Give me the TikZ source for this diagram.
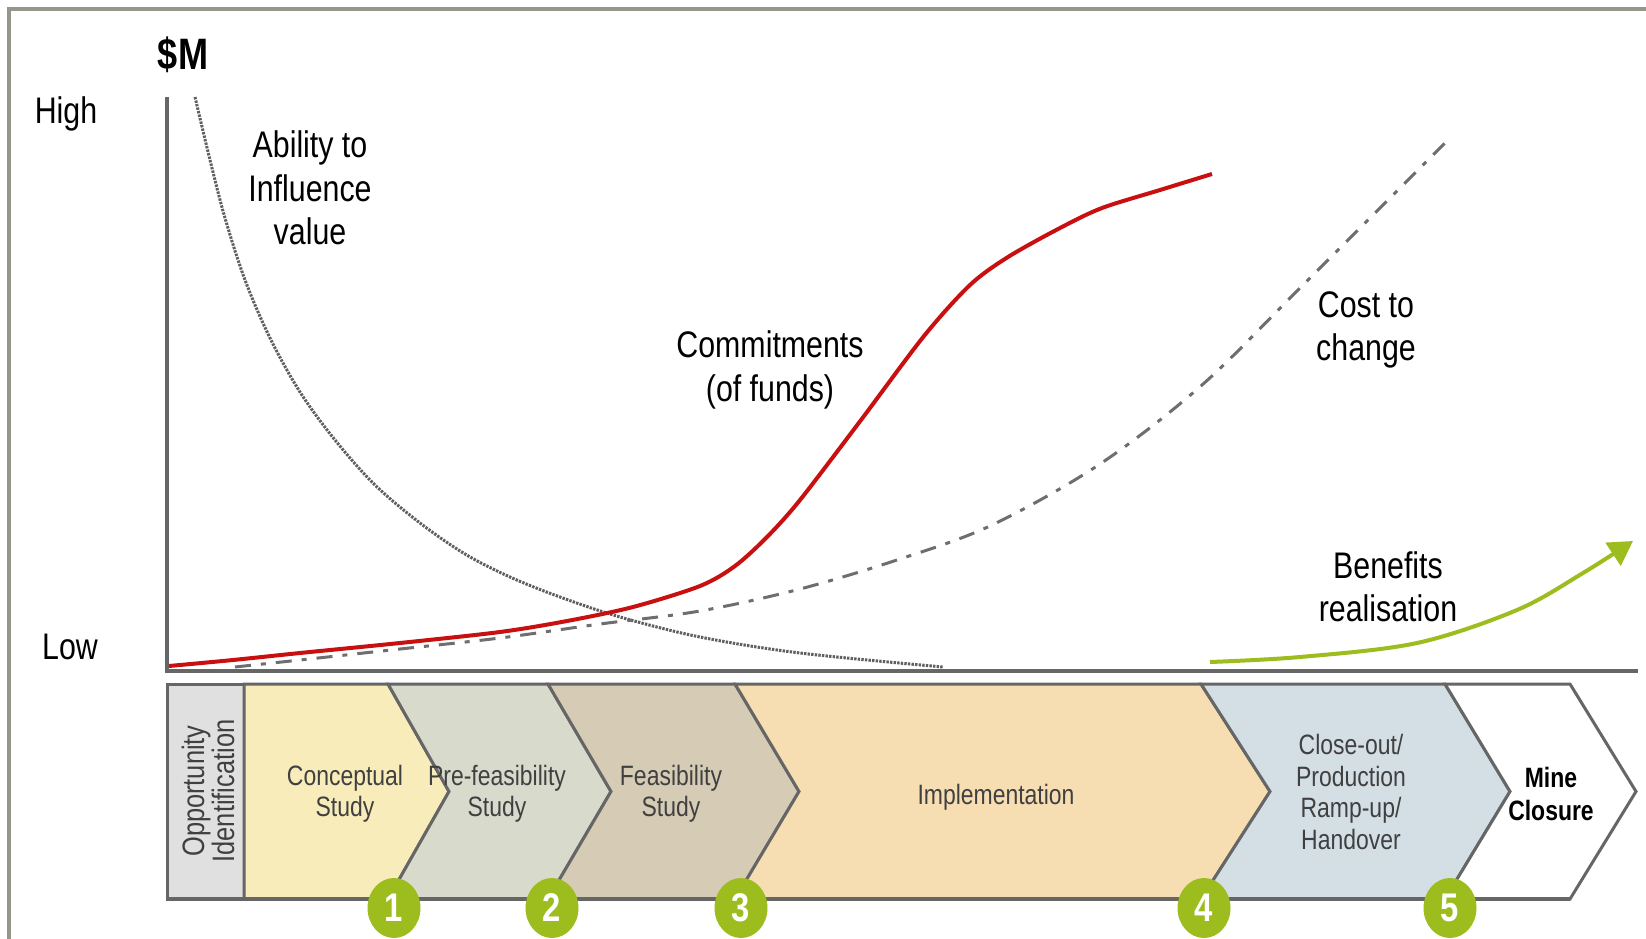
\documentclass[tikz,border=0pt]{standalone}
\usepackage{fontspec}
\newfontfamily\nar{Liberation Sans}[FakeStretch=0.82]
\usetikzlibrary{shapes.geometric,arrows.meta}
\definecolor{frameC}{RGB}{150,150,140}
\definecolor{axisC}{RGB}{102,102,102}
\definecolor{redC}{RGB}{200,16,16}
\definecolor{greenC}{RGB}{157,188,30}
\definecolor{curveC}{RGB}{110,110,110}
\definecolor{dotC}{RGB}{95,95,95}
\definecolor{oppC}{RGB}{224,224,224}
\definecolor{conC}{RGB}{248,236,186}
\definecolor{preC}{RGB}{216,218,204}
\definecolor{feaC}{RGB}{214,204,182}
\definecolor{impC}{RGB}{247,222,178}
\definecolor{cloC}{RGB}{211,223,228}
\definecolor{stageT}{RGB}{64,64,64}
\begin{document}
\begin{tikzpicture}[x=1pt,y=-1pt,
  lbl/.style={font=\nar\fontsize{37}{43.5}\selectfont, align=center, inner sep=0pt},
  stage/.style={font=\nar\fontsize{28}{31.5}\selectfont, align=center, inner sep=0pt, text=stageT},
  badge/.style={ellipse, fill=greenC, minimum width=53pt, minimum height=60pt, inner sep=0pt, text=white, font=\nar\bfseries\fontsize{40}{40}\selectfont},
  chev/.style={draw=axisC, line width=3pt, line join=miter},
  axisline/.style={draw=axisC, line width=3.5pt},
]
\useasboundingbox (0,0) rectangle (1646,939);
% outer frame
\draw[frameC, line width=3.5pt] (9,960) -- (9,9) -- (1670,9);
% axes
\coordinate (ytop) at (167,97);
\coordinate (O) at (167,671);
\coordinate (xend) at (1638,671);
\draw[axisline] (ytop) -- (O) -- (xend);
% labels
\node[lbl, font=\nar\bfseries\fontsize{44}{44}\selectfont, anchor=base] (dm) at (183,70) {\$M};
\node[lbl, anchor=base] (high) at (66,124) {High};
\node[lbl, anchor=base] (low) at (70,659) {Low};
\node[lbl] (abil) at (310,188) {Ability to\\Influence\\value};
\node[lbl] (comm) at (770,370) {Commitments\\(of funds)};
\node[lbl] (cost) at (1366,330) {Cost to\\change};
\node[lbl] (ben) at (1388,587) {Benefits\\realisation};
% curves
\draw[dotC, line width=3pt, dash pattern=on 2.4pt off 1.2pt] plot[smooth, tension=0.55] coordinates {(195,97) (210,160) (225,218) (245,280) (270,338) (300,392) (335,440) (375,485) (420,523) (465,554) (510,577) (560,597) (620,617) (700,637) (800,653) (943,667)};
\draw[curveC, line width=3pt, dash pattern=on 16pt off 10pt on 5pt off 10pt] plot[smooth, tension=0.55] coordinates {(235,667) (300,660) (400,649) (500,638) (600,624) (700,611) (800,589) (900,559) (992,525) (1100,464) (1202,385) (1300,288) (1448,140)};
\draw[redC, line width=4pt] plot[smooth, tension=0.5] coordinates {(169,666) (233,660) (300,653) (400,643) (500,632) (567,621) (633,607) (700,586) (735,566) (767,537) (800,500) (861,420) (924,336) (970,285) (1008,257) (1060,228) (1102,208) (1160,190) (1212,174)};
\draw[greenC, line width=4pt, -{Triangle[length=24pt,width=27pt]}] plot[smooth, tension=0.55] coordinates {(1210,662) (1300,657) (1417,643) (1517,610) (1583,573) (1633,541)};
% stage band
\filldraw[chev, fill=oppC] (167,684) rectangle (244,899);
\filldraw[chev, fill=conC] (244,684) -- (388,684) -- (449,791.5) -- (388,899) -- (244,899) -- cycle;
\filldraw[chev, fill=preC] (388,684) -- (548,684) -- (611,791.5) -- (548,899) -- (388,899) -- (449,791.5) -- cycle;
\filldraw[chev, fill=feaC] (548,684) -- (735,684) -- (799,791.5) -- (735,899) -- (548,899) -- (611,791.5) -- cycle;
\filldraw[chev, fill=impC] (735,684) -- (1201,684) -- (1270,791.5) -- (1201,899) -- (735,899) -- (799,791.5) -- cycle;
\filldraw[chev, fill=cloC] (1201,684) -- (1445,684) -- (1510,791.5) -- (1445,899) -- (1201,899) -- (1270,791.5) -- cycle;
\filldraw[chev, fill=white] (1445,684) -- (1570,684) -- (1636,791.5) -- (1570,899) -- (1445,899) -- (1510,791.5) -- cycle;
\draw[axisC, line width=4pt] (167,899) -- (1570,899);
% stage texts
\node[stage, rotate=90, font=\nar\fontsize{31}{27}\selectfont] (opp) at (208,791) {Opportunity\\Identification};
\node[stage] (con) at (345,794) {Conceptual\\Study};
\node[stage] (pre) at (497,794) {Pre-feasibility\\Study};
\node[stage] (fea) at (671,794) {Feasibility\\Study};
\node[stage] (imp) at (996,797) {Implementation};
\node[stage] (clo) at (1351,792) {Close-out/\\Production\\Ramp-up/\\Handover};
\node[stage, text=black, font=\nar\bfseries\fontsize{28}{33}\selectfont] (mine) at (1551,794) {Mine\\Closure};
% badges
\node[badge] (b1) at (394,908) {1};
\node[badge] (b2) at (552,908) {2};
\node[badge] (b3) at (741,908) {3};
\node[badge] (b4) at (1204,908) {4};
\node[badge] (b5) at (1450,908) {5};
\end{tikzpicture}
\end{document}
